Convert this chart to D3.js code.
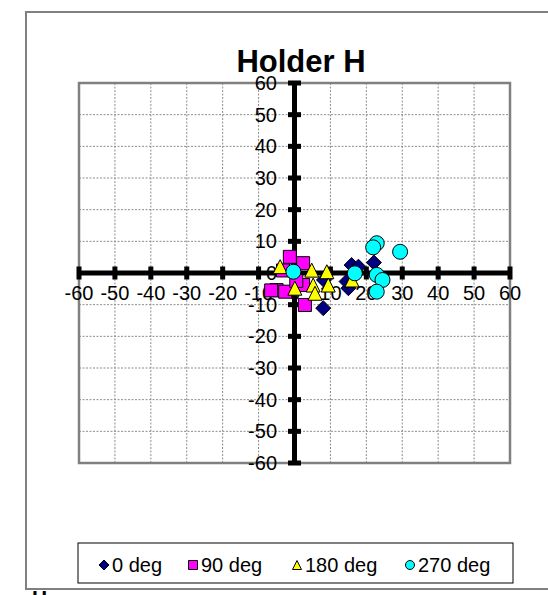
<!DOCTYPE html>
<html>
<head>
<meta charset="utf-8">
<script src="https://cdn.jsdelivr.net/npm/d3@7"></script>
<style>
  body { margin: 0; background: #fff; }
  text { font-family: Arial, "Liberation Sans", sans-serif; }
</style>
</head>
<body>
<svg id="chart"></svg>
<script>
// readings, in the order the series were plotted
var seriesNames = ["0 deg", "90 deg", "180 deg", "270 deg"];
var deg0X = [15.9, 17.8, 15.0, 14.5, 22.1, 8.0, 8.2];
var deg0Y = [2.5, 2.0, -4.8, -2.7, 3.3, -11.1, -2.2];
var deg90X = [-1.3, 2.4, -3.2, -5.0, -2.6, 2.4, 2.9, -6.5, 0.5];
var deg90Y = [5.1, 3.1, 0.8, -5.4, -5.9, -3.8, -10.1, -5.5, -2.5];
var deg180X = [-4.0, 0.1, 4.8, 5.2, 9.0, 9.4, 5.7, 16.0];
var deg180Y = [2.0, -4.8, 0.9, -3.8, 0.4, -3.8, -6.4, -2.2];
var deg270X = [22.9, 21.9, 29.4, 16.8, 22.9, 24.5, 22.9, -0.3];
var deg270Y = [9.4, 8.1, 6.7, -0.1, -0.6, -2.2, -5.9, 0.4];
var tickValues = [-60, -50, -40, -30, -20, -10, 0, 10, 20, 30, 40, 50, 60];

const width = 548;
const height = 595;
const plot = {left: 79, right: 510, top: 83, bottom: 463};

var svg = d3.select('#chart')
  .attr('width', width)
  .attr('height', height);

var x = d3.scaleLinear().domain([-60, 60]).range([plot.left, plot.right]);
var y = d3.scaleLinear().domain([-60, 60]).range([plot.bottom, plot.top]);

// marker shapes, Excel style
var shapePath = function(shape, s) {
  var h = s / 2;
  if (shape == 'diamond') return `M0,${-h}L${h},0L0,${h}L${-h},0Z`;
  if (shape == 'square') return `M${-h},${-h}H${h}V${h}H${-h}Z`;
  if (shape == 'triangle') return `M0,${-h}L${h},${h}L${-h},${h}Z`;
  return d3.arc()({innerRadius: 0, outerRadius: h, startAngle: 0, endAngle: 2 * Math.PI});
};

var series = [
  {name: seriesNames[0], xs: deg0X, ys: deg0Y, shape: 'diamond', fill: '#000080', size: 15},
  {name: seriesNames[1], xs: deg90X, ys: deg90Y, shape: 'square', fill: '#ff00ff', size: 13},
  {name: seriesNames[2], xs: deg180X, ys: deg180Y, shape: 'triangle', fill: '#ffff00', size: 14},
  {name: seriesNames[3], xs: deg270X, ys: deg270Y, shape: 'circle', fill: '#00ffff', size: 15}
];

// outer chart border (right side runs off the page)
svg.append('path')
  .attr('d', `M570,12H26V589H570`)
  .attr('fill', 'none')
  .attr('stroke', '#808080')
  .attr('stroke-width', 2);

// gridlines
var grid = svg.append('g');
grid.selectAll('.gx')
  .data(tickValues.slice(1, -1))
  .enter().append('line')
    .attr('x1', d => x(d)).attr('x2', d => x(d))
    .attr('y1', plot.top).attr('y2', plot.bottom);
grid.selectAll('.gy')
  .data(tickValues.slice(1, -1))
  .enter().append('line')
    .attr('y1', d => y(d)).attr('y2', d => y(d))
    .attr('x1', plot.left).attr('x2', plot.right);
grid.selectAll('line')
  .attr('stroke', '#8c8c8c')
  .attr('stroke-width', 1)
  .attr('stroke-dasharray', '2,1.5');

// plot area border
svg.append('rect')
  .attr('x', plot.left).attr('y', plot.top)
  .attr('width', plot.right - plot.left)
  .attr('height', plot.bottom - plot.top)
  .attr('fill', 'none')
  .attr('stroke', '#808080')
  .attr('stroke-width', 2.5);

// tick labels (sit under the axes and markers)
svg.append('g').selectAll('text')
  .data(tickValues)
  .enter().append('text')
    .attr('x', d => x(d))
    .attr('y', y(0) + 26.5)
    .attr('text-anchor', 'middle')
    .attr('font-size', 20)
    .text(d => d);

svg.append('g').selectAll('text')
  .data(tickValues)
  .enter().append('text')
    .attr('x', x(0) - 17.5)
    .attr('y', d => y(d) + 7)
    .attr('text-anchor', 'end')
    .attr('font-size', 20)
    .text(d => d);

// thick axes through the origin
var axes = svg.append('g');
axes.append('line')
  .attr('x1', plot.left).attr('x2', plot.right)
  .attr('y1', y(0)).attr('y2', y(0));
axes.append('line')
  .attr('x1', x(0)).attr('x2', x(0))
  .attr('y1', plot.top).attr('y2', plot.bottom);
axes.selectAll('line')
  .attr('stroke', 'black')
  .attr('stroke-width', 5);

axes.selectAll('.tx')
  .data(tickValues)
  .enter().append('rect')
    .attr('x', d => x(d) - 2.5)
    .attr('y', y(0) - 6.5)
    .attr('width', 5).attr('height', 13);
axes.selectAll('.ty')
  .data(tickValues)
  .enter().append('rect')
    .attr('x', x(0) - 6.5)
    .attr('y', d => y(d) - 2.5)
    .attr('width', 13).attr('height', 5);

// markers
for (var s of series) {
  var pts = s.xs.map((v, i) => ({x: v, y: s.ys[i]}));
  svg.append('g').selectAll('path')
    .data(pts)
    .enter().append('path')
      .attr('transform', d => `translate(${x(d.x)},${y(d.y)})`)
      .attr('d', shapePath(s.shape, s.size))
      .attr('fill', s.fill)
      .attr('stroke', 'black')
      .attr('stroke-width', 1);
}

// title
svg.append('text')
  .attr('x', 301)
  .attr('y', 72)
  .attr('text-anchor', 'middle')
  .attr('font-size', 31)
  .attr('font-weight', 'bold')
  .text('Holder H');

// legend
var legend = svg.append('g');
legend.append('rect')
  .attr('x', 78).attr('y', 543)
  .attr('width', 435).attr('height', 40)
  .attr('fill', 'white')
  .attr('stroke', 'black')
  .attr('stroke-width', 1);

var legendX = [104, 193, 297, 410];
var item = legend.selectAll('.item')
  .data(series)
  .enter().append('g')
    .attr('transform', (d, i) => `translate(${legendX[i]},565)`);
item.append('path')
  .attr('d', d => shapePath(d.shape, d.shape == 'diamond' ? 10 : 9))
  .attr('fill', d => d.fill)
  .attr('stroke', 'black')
  .attr('stroke-width', 1);
item.append('text')
  .attr('x', 8)
  .attr('y', 7)
  .attr('font-size', 20)
  .text(d => d.name);

// stray label cut off at the bottom edge
svg.append('text')
  .attr('x', 32)
  .attr('y', 605)
  .attr('font-size', 21)
  .attr('font-weight', 'bold')
  .text('H');
</script>
</body>
</html>
